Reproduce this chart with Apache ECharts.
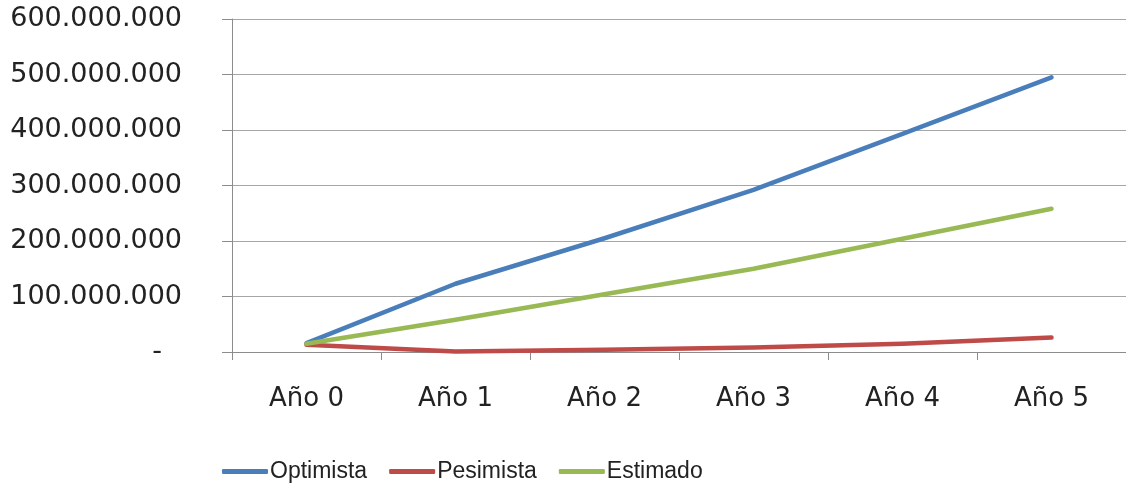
<!DOCTYPE html>
<html>
<head>
<meta charset="utf-8">
<script src="https://cdn.jsdelivr.net/npm/echarts@6/dist/echarts.min.js"></script>
<style>
  html, body { margin: 0; padding: 0; background: #ffffff; overflow: hidden; }
  #chart { width: 1126px; height: 487px; }
</style>
</head>
<body>
<div id="chart"></div>
<script>
// Year categories and the three projected scenarios
const years = ['Año 0', 'Año 1', 'Año 2', 'Año 3', 'Año 4', 'Año 5'];
const optimista = [16000000, 123000000, 205000000, 292000000, 393000000, 495000000];
const pesimista = [13000000, 1000000, 4000000, 8000000, 15000000, 26000000];
const estimado = [15000000, 58000000, 104000000, 150000000, 204000000, 258000000];
const yTicks = [0, 100000000, 200000000, 300000000, 400000000, 500000000, 600000000];

// Thousands separated with dots; zero shown as a dash
function fmt(v) {
  if (v === 0) return '{z|-}';
  return String(Math.round(v)).replace(/\B(?=(\d{3})+(?!\d))/g, '.');
}

const chart = echarts.init(document.getElementById('chart'), null, { renderer: 'canvas' });

const seriesDefs = [
  { name: 'Optimista', data: optimista, color: '#4a7ebb' },
  { name: 'Pesimista', data: pesimista, color: '#be4b48' },
  { name: 'Estimado', data: estimado, color: '#98b954' }
];

chart.setOption({
  animation: false,
  backgroundColor: '#ffffff',
  grid: { left: 232, right: 0, top: 19, bottom: 135, containLabel: false },
  legend: {
    bottom: -1,
    left: 217,
    itemWidth: 46,
    itemHeight: 5,
    itemGap: 22,
    icon: 'roundRect',
    textStyle: { fontFamily: 'Liberation Sans', fontSize: 23, color: '#222222', padding: [0, 0, 0, -3] },
    data: seriesDefs.map(s => s.name)
  },
  xAxis: {
    type: 'category',
    data: years,
    boundaryGap: true,
    axisLine: { show: true, lineStyle: { color: '#8c8c8c', width: 1 } },
    axisTick: { show: true, length: 8, lineStyle: { color: '#8c8c8c' } },
    axisLabel: { fontFamily: 'DejaVu Sans', fontSize: 26, color: '#222222', margin: 34 },
    splitLine: { show: false }
  },
  yAxis: {
    type: 'value',
    min: yTicks[0],
    max: yTicks[yTicks.length - 1],
    interval: yTicks[1] - yTicks[0],
    axisLine: { show: true, lineStyle: { color: '#8c8c8c', width: 1 } },
    axisTick: { show: true, length: 10, lineStyle: { color: '#8c8c8c' } },
    axisLabel: {
      fontFamily: 'DejaVu Sans', fontSize: 27, color: '#222222', margin: 50,
      formatter: fmt,
      rich: { z: { fontFamily: 'DejaVu Sans', fontSize: 27, color: '#222222', padding: [0, 20, 0, 0] } }
    },
    splitLine: { show: true, lineStyle: { color: '#a6a6a6', width: 1 } }
  },
  series: seriesDefs.map(s => ({
    name: s.name,
    type: 'line',
    data: s.data,
    symbol: 'none',
    smooth: false,
    color: s.color,
    lineStyle: { color: s.color, width: 4.5, cap: 'round', join: 'round' },
    itemStyle: { color: s.color }
  }))
});
</script>
</body>
</html>
